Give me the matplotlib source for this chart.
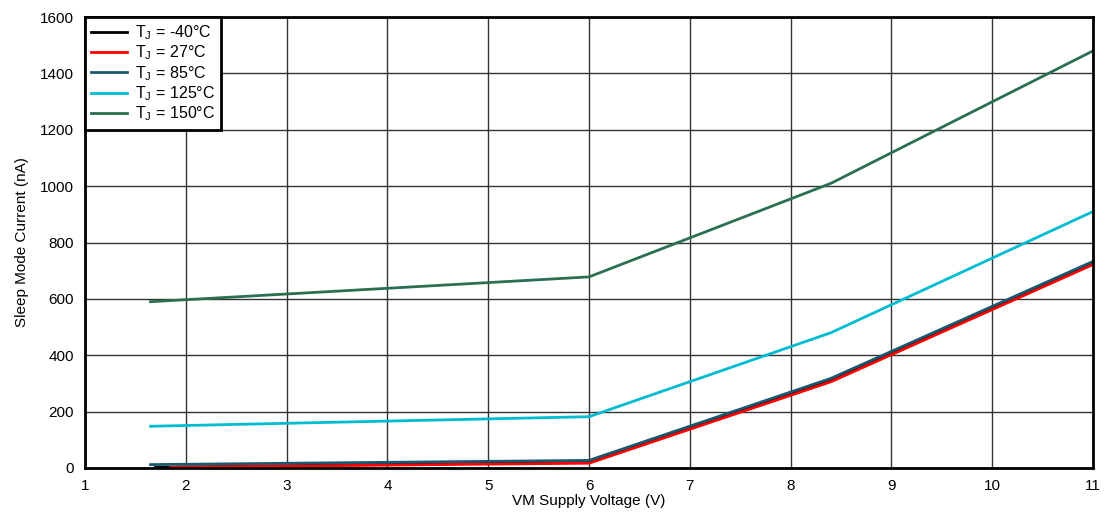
import matplotlib
matplotlib.use('Agg')
import matplotlib.pyplot as plt

plt.rcParams['font.family'] = ['Liberation Sans', 'DejaVu Sans']

# VM supply voltage (V) and sleep current (nA) per junction temperature
vm_m40 = [1.7, 6, 8.4, 11]
i_m40 = [2, 22, 313, 730]
vm_27 = [1.85, 6, 8.4, 11]
i_27 = [3, 17, 306, 722]
vm_85 = [1.65, 6, 8.4, 11]
i_85 = [12, 27, 318, 733]
vm_125 = [1.65, 6, 8.4, 11]
i_125 = [148, 182, 480, 910]
vm_150 = [1.65, 6, 8.4, 11]
i_150 = [590, 678, 1010, 1480]

labels = ['T$_\\mathregular{J}$ = -40°C', 'T$_\\mathregular{J}$ = 27°C', 'T$_\\mathregular{J}$ = 85°C',
          'T$_\\mathregular{J}$ = 125°C', 'T$_\\mathregular{J}$ = 150°C']
colors = ['#000000', '#ff0000', '#1b5870', '#00bcd0', '#2a7050']

fig = plt.figure(figsize=(11.07, 5.19), dpi=100)
ax = fig.add_axes([0.0768, 0.0983, 0.9106, 0.8689])

series = [(vm_m40, i_m40), (vm_27, i_27), (vm_85, i_85), (vm_125, i_125), (vm_150, i_150)]
for (x, y), lab, c in zip(series, labels, colors):
    ax.plot(x, y, color=c, lw=2, label=lab)

ax.set_xlim(1, 11)
ax.set_ylim(0, 1600)
ax.set_xticks(range(1, 12))
ax.set_yticks(range(0, 1601, 200))
ax.grid(True, color='#333333', lw=1)
ax.set_axisbelow(True)
ax.tick_params(length=0, labelsize=11, pad=8)
for s in ax.spines.values():
    s.set_linewidth(2)

ax.set_xlabel('VM Supply Voltage (V)', fontsize=11, labelpad=1)
ax.set_ylabel('Sleep Mode Current (nA)', fontsize=11, labelpad=8)

leg = ax.legend(loc='upper left', fontsize=11.5, fancybox=False, framealpha=1,
                edgecolor='black', borderaxespad=0, handlelength=2.2,
                labelspacing=0.1, borderpad=0.4, handletextpad=0.5)
leg.get_frame().set_linewidth(2)

fig.savefig('out.png', dpi=100)
